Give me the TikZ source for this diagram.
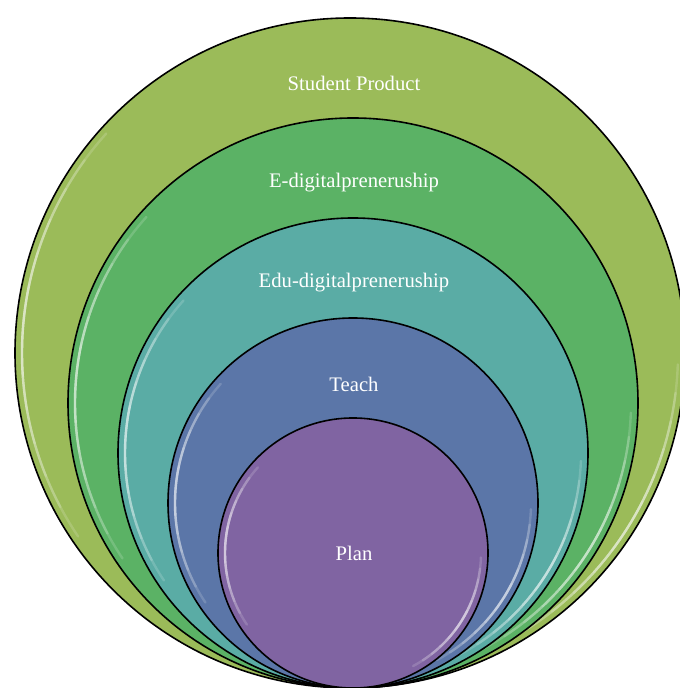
\documentclass[tikz,border=0pt]{standalone}
\usepackage{fontspec}
\setmainfont{Liberation Serif}
\definecolor{ringA}{HTML}{9BBB59}
\definecolor{ringB}{HTML}{5BB265}
\definecolor{ringC}{HTML}{5AACA5}
\definecolor{ringD}{HTML}{5B76A8}
\definecolor{ringE}{HTML}{8064A2}
\tikzset{
  ring/.style={draw=black, line width=1.2pt},
  gloss/.style={white, line cap=round, line width=1.8pt, opacity=0.16},
  lbl/.style={text=white, font=\fontsize{15.5}{18}\selectfont, inner sep=0pt}
}
\begin{document}
\begin{tikzpicture}[x=0.75pt,y=0.75pt]
\useasboundingbox (0,0) rectangle (680,688);
\clip (0,0) rectangle (680,688);
\foreach \r/\cx/\c in {335/350/ringA, 285/353/ringB, 235/353/ringC, 185/353/ringD, 135/353/ringE}{
  \fill[\c] (\cx,\r) circle (\r);
  \pgfmathsetmacro{\rr}{\r-7}
  \foreach \k in {0,...,5}{
    \pgfmathsetmacro{\aa}{138+6*\k}
    \pgfmathsetmacro{\ab}{214-6*\k}
    \draw[gloss] (\cx,\r) ++(\aa:\rr) arc (\aa:\ab:\rr);
    \pgfmathsetmacro{\ba}{-62+5*\k}
    \pgfmathsetmacro{\bb}{-2-5*\k}
    \draw[gloss] (\cx,\r) ++(\ba:\rr) arc (\ba:\bb:\rr);
  }
  \draw[ring] (\cx,\r) circle (\r);
}
\node[lbl] (sp) at (354,605) {Student Product};
\node[lbl] (ed) at (354,505) {E-digitalpreneruship};
\node[lbl] (edu) at (354,405) {Edu-digitalpreneruship};
\node[lbl] (te) at (354,304) {Teach};
\node[lbl] (pl) at (354,135) {Plan};
\end{tikzpicture}
\end{document}
